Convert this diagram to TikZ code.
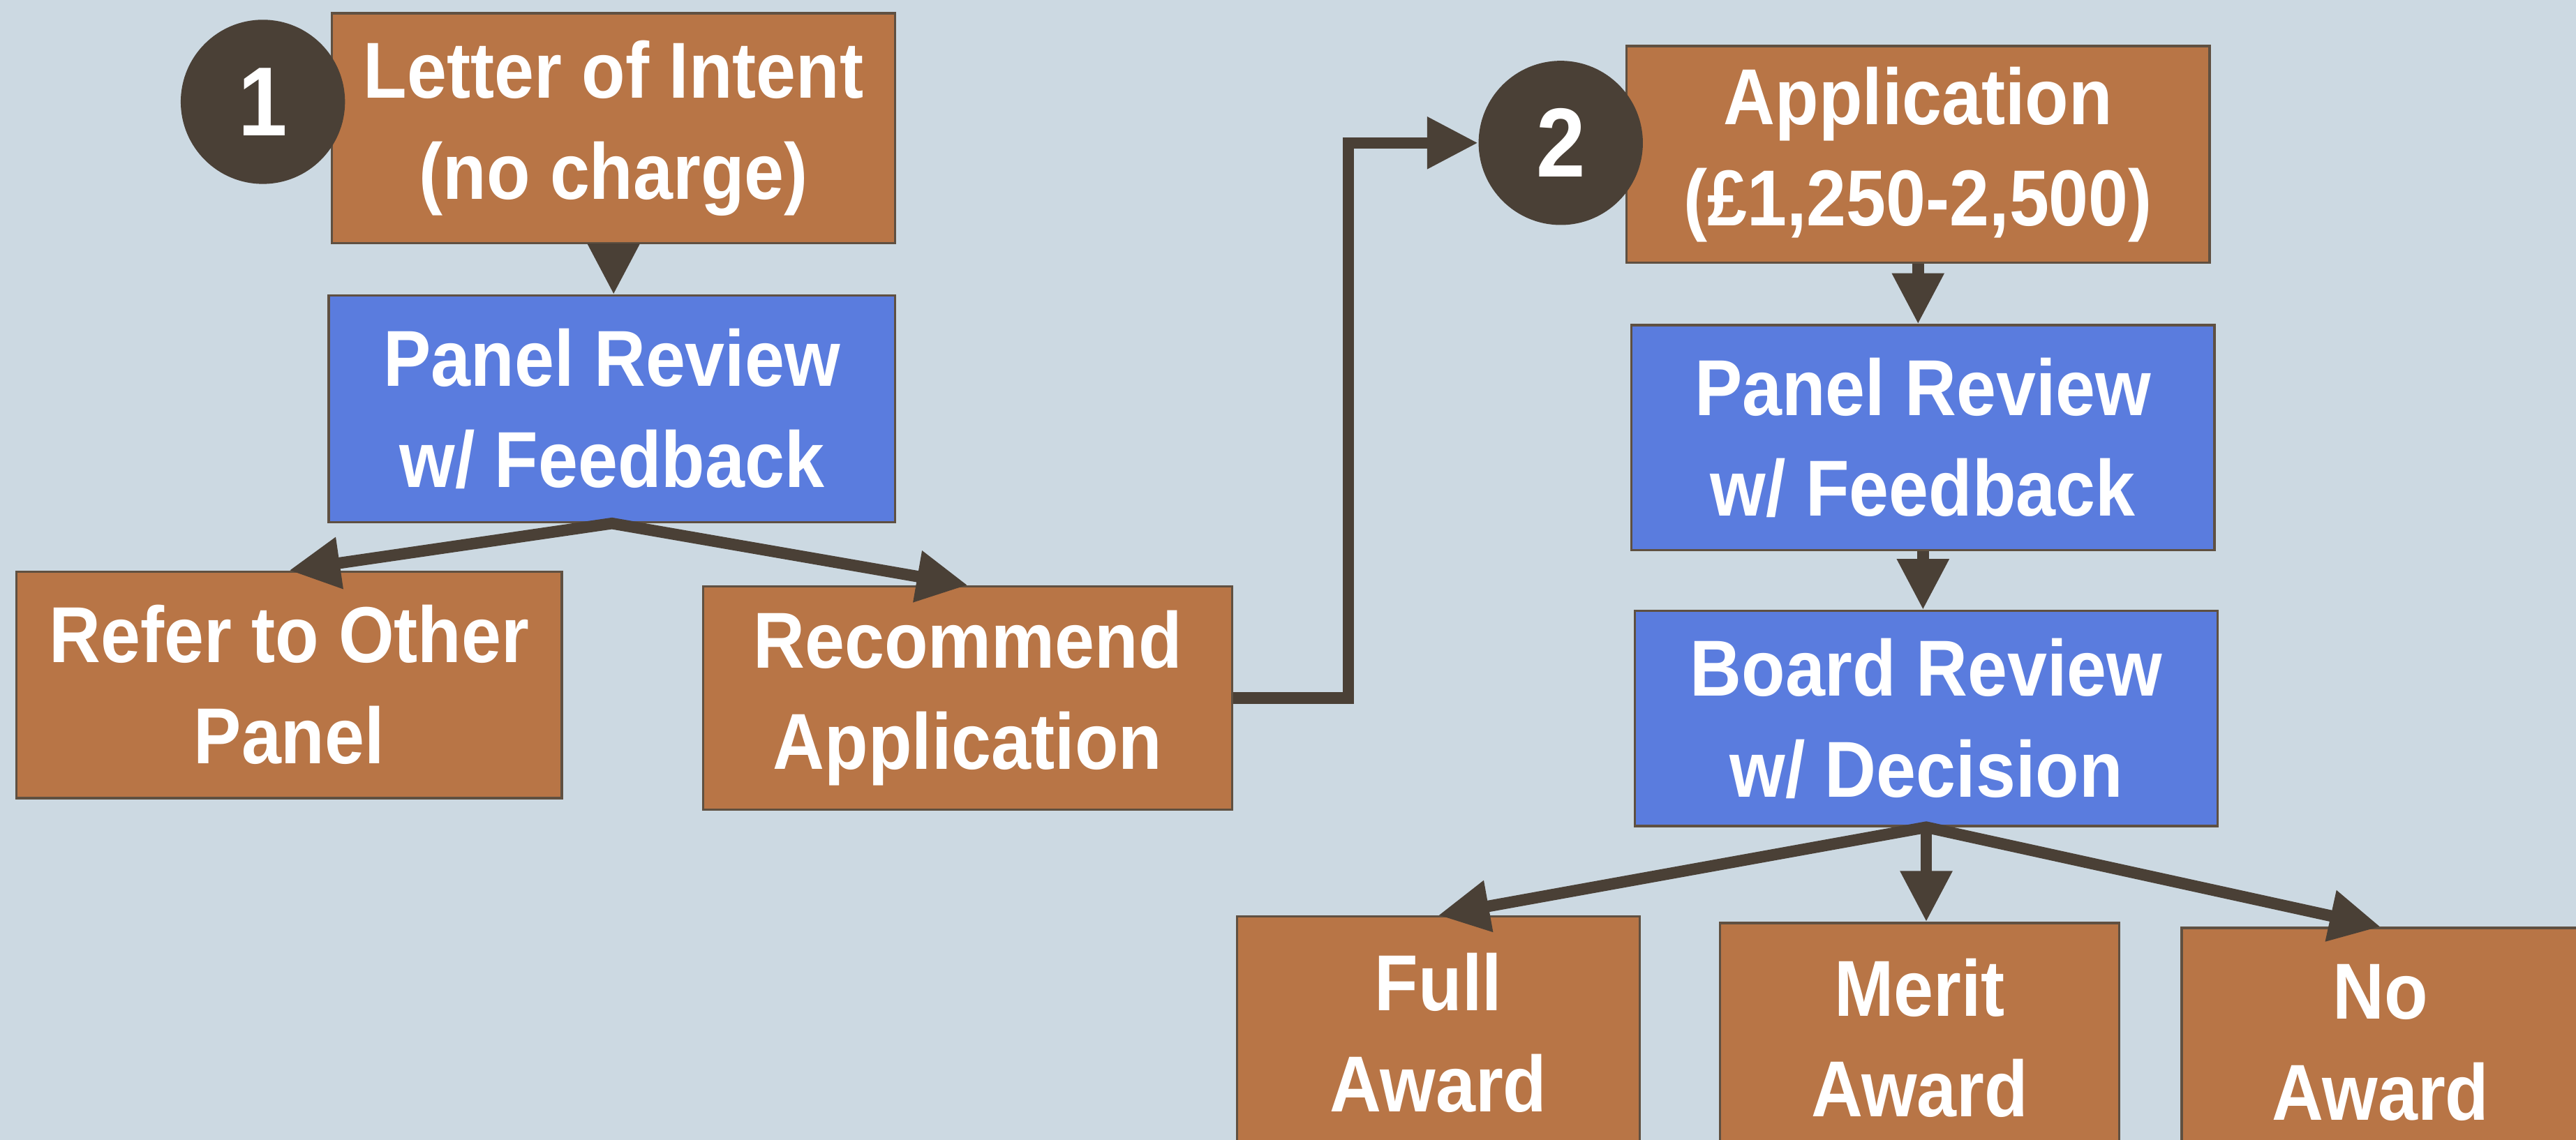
\documentclass[tikz,border=0pt]{standalone}
\usepackage{fontspec}
\setsansfont{Liberation Sans}[FakeStretch=0.9]
\usetikzlibrary{arrows.meta}
\definecolor{slidebg}{RGB}{204,217,226}
\definecolor{boxorange}{RGB}{184,117,70}
\definecolor{boxblue}{RGB}{90,124,222}
\definecolor{darkbrown}{RGB}{74,64,54}
\definecolor{boxedge}{RGB}{95,80,65}
\begin{document}
\begin{tikzpicture}[x=0.02cm, y=-0.02cm,
    box/.style={draw=boxedge, line width=0.8pt, text=white, align=center, inner sep=0pt,
        font=\sffamily\bfseries\fontsize{27.5}{35}\selectfont},
    orangebox/.style={box, fill=boxorange},
    bluebox/.style={box, fill=boxblue},
    badge/.style={circle, fill=darkbrown, text=white, minimum size=2cm, inner sep=0pt,
        font=\sffamily\bfseries\fontsize{34}{34}\selectfont},
    link/.style={draw=darkbrown, line width=4pt, -{Triangle[length=0.62cm, width=0.6cm]}},
    fork/.style={draw=darkbrown, line width=4pt, line join=miter,
        {Triangle[length=0.62cm, width=0.6cm]}-{Triangle[length=0.62cm, width=0.6cm]}}]
    \useasboundingbox (0,0) rectangle (1568,694);
    \fill[slidebg] (0,0) rectangle (1568,694);
    \clip (0,0) rectangle (1568,694);
    % stage 1
    \node[orangebox, minimum width=6.86cm, minimum height=2.8cm] (loi) at (373.5,78) {Letter of Intent\\(no charge)};
    \node[bluebox, minimum width=6.9cm, minimum height=2.76cm] (pr1) at (372.5,249) {Panel Review\\w/ Feedback};
    \node[orangebox, minimum width=6.64cm, minimum height=2.76cm] (refer) at (176,417) {Refer to Other\\Panel};
    \node[orangebox, minimum width=6.44cm, minimum height=2.72cm] (recom) at (589,425) {Recommend\\Application};
    % stage 2
    \node[orangebox, minimum width=7.1cm, minimum height=2.64cm] (app) at (1167.5,94) {Application\\(£1,250-2,500)};
    \node[bluebox, minimum width=7.1cm, minimum height=2.74cm] (pr2) at (1170.5,266.5) {Panel Review\\w/ Feedback};
    \node[bluebox, minimum width=7.1cm, minimum height=2.62cm] (board) at (1172.5,437.5) {Board Review\\w/ Decision};
    \node[orangebox, minimum width=4.9cm, minimum height=2.84cm] (full) at (875.5,629) {Full\\Award};
    \node[orangebox, minimum width=4.86cm, minimum height=2.8cm] (merit) at (1168.5,632) {Merit\\Award};
    \node[orangebox, minimum width=4.84cm, minimum height=2.8cm] (noaward) at (1449,635) {No\\Award};
    % numbers
    \node[badge] (c1) at (160,62) {1};
    \node[badge] (c2) at (950,87) {2};
    % arrows
    \draw[link] (loi.south) -- (loi.south |- pr1.north);
    \draw[fork] (refer.north) -- (pr1.south) -- (recom.north);
    \draw[link] (recom.east) -- ++(70,0) |- (c2.west);
    \draw[link] (app.south) -- (app.south |- pr2.north);
    \draw[link] (pr2.south) -- (pr2.south |- board.north);
    \draw[fork] (full.north) -- (board.south) -- (noaward.north);
    \draw[link] (board.south) -- (board.south |- merit.north);
\end{tikzpicture}
\end{document}
